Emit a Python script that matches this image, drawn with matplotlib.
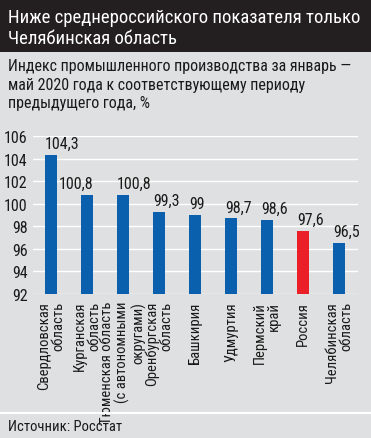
import matplotlib
matplotlib.use("Agg")
import matplotlib.pyplot as plt
from matplotlib.patches import Rectangle
from matplotlib.lines import Line2D

plt.rcParams['font.family'] = ['Roboto Condensed', 'DejaVu Sans']

# data
regions = ["Свердловская\nобласть", "Курганская\nобласть",
           "Тюменская область\n(с автономными\nокругами)", "Оренбургская\nобласть",
           "Башкирия", "Удмуртия", "Пермский\nкрай", "Россия", "Челябинская\nобласть"]
values = [104.3, 100.8, 100.8, 99.3, 99.0, 98.7, 98.6, 97.6, 96.5]
value_labels = ["104,3", "100,8", "100,8", "99,3", "99", "98,7", "98,6", "97,6", "96,5"]
yticks = [92, 94, 96, 98, 100, 102, 104, 106]

title = "Ниже среднероссийского показателя только\nЧелябинская область"
subtitle = ("Индекс промышленного производства за январь —\n"
            "май 2020 года к соответствующему периоду\n"
            "предыдущего года, %")
source = "Источник: Росстат"

BG = "#dfe0e1"
BLUE = "#0a60ad"
RED = "#ea1f27"
INK = "#1a1a1a"
W, H = 371, 439
BAR_W = 0.33

fig = plt.figure(figsize=(W / 100, H / 100), dpi=100, facecolor=BG)

# dark header band
fig.patches.append(Rectangle((0, 1 - 53 / H), 1, 53 / H, transform=fig.transFigure,
                             facecolor="#231f20", edgecolor="none", zorder=0))
fig.text(8 / W, 1 - 9 / H, title, color="white", fontsize=13.5, va="top",
         ha="left", linespacing=1.2)
fig.text(8 / W, 1 - 59 / H, subtitle, color=INK, fontsize=11.5, va="top",
         ha="left", linespacing=1.3)

ax = fig.add_axes([33 / W, 1 - 295 / H, (358 - 33) / W, (295 - 137) / H])
ax.set_facecolor(BG)
x = list(range(len(values)))
colors = [RED if r == "Россия" else BLUE for r in regions]
bottom = yticks[0]
ax.bar(x, [v - bottom for v in values], bottom=bottom, width=BAR_W, color=colors, zorder=3)

# labels sit at the bar's left edge, except where they would collide
label_align = ["left", "right", "left", "left", "left", "left", "left", "left", "left"]
for xi, v, lab, al in zip(x, values, value_labels, label_align):
    xpos = xi - BAR_W / 2 if al == "left" else xi + BAR_W / 2
    ax.text(xpos, v + 0.35, lab, ha=al, va="bottom", fontsize=11.5, color=INK,
            clip_on=False)

ax.set_ylim(92, 106)
ax.set_xlim(-0.5, len(values) - 0.47)
ax.set_yticks(yticks)
ax.set_yticklabels([str(t) for t in yticks], fontsize=11.5, color=INK)
ax.yaxis.grid(True, color="white", linewidth=1.0, zorder=0)
ax.tick_params(axis="y", length=0, pad=4)
ax.tick_params(axis="x", length=0, pad=5)
ax.set_xticks(x)
ax.set_xticklabels(regions, rotation=90, fontsize=10.5, multialignment="right",
                   color=INK, linespacing=1.05)
for s in ax.spines.values():
    s.set_visible(False)

# separator and source line
fig.add_artist(Line2D([0, 1], [1 - 414 / H, 1 - 414 / H], transform=fig.transFigure,
                      color="white", linewidth=1.5))
fig.text(8 / W, 1 - 427 / H, source, fontsize=10.5, va="center", ha="left", color=INK)

fig.savefig("out.png", dpi=100, facecolor=BG)
